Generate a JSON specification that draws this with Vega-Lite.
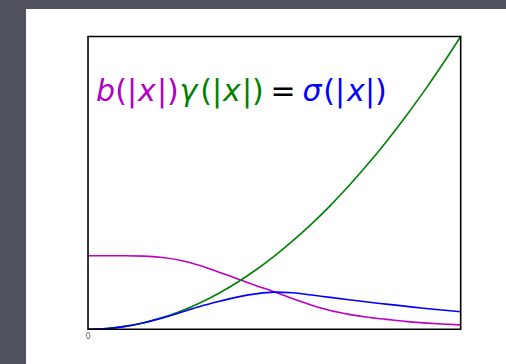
{
  "$schema": "https://vega.github.io/schema/vega-lite/v6.json",
  "width": 480,
  "height": 355,
  "autosize": "none",
  "padding": {"left": 26, "top": 9, "right": 0, "bottom": 0},
  "background": "#50535d",
  "config": {"view": {"fill": "white", "stroke": null}},
  "datasets": {
    "curves": [
      {"x": 0.00, "b": 0.251, "gamma": 0.0000, "sigma": 0.0000},
      {"x": 0.05, "b": 0.251, "gamma": 0.0025, "sigma": 0.0025},
      {"x": 0.10, "b": 0.251, "gamma": 0.0100, "sigma": 0.0100},
      {"x": 0.15, "b": 0.250, "gamma": 0.0225, "sigma": 0.0225},
      {"x": 0.20, "b": 0.245, "gamma": 0.0400, "sigma": 0.0390},
      {"x": 0.25, "b": 0.235, "gamma": 0.0625, "sigma": 0.0580},
      {"x": 0.30, "b": 0.218, "gamma": 0.0900, "sigma": 0.0780},
      {"x": 0.35, "b": 0.196, "gamma": 0.1225, "sigma": 0.0950},
      {"x": 0.40, "b": 0.173, "gamma": 0.1600, "sigma": 0.1100},
      {"x": 0.45, "b": 0.150, "gamma": 0.2025, "sigma": 0.1210},
      {"x": 0.50, "b": 0.128, "gamma": 0.2500, "sigma": 0.1270},
      {"x": 0.55, "b": 0.104, "gamma": 0.3025, "sigma": 0.1250},
      {"x": 0.60, "b": 0.082, "gamma": 0.3600, "sigma": 0.1170},
      {"x": 0.65, "b": 0.064, "gamma": 0.4225, "sigma": 0.1090},
      {"x": 0.70, "b": 0.051, "gamma": 0.4900, "sigma": 0.1010},
      {"x": 0.75, "b": 0.041, "gamma": 0.5625, "sigma": 0.0930},
      {"x": 0.80, "b": 0.034, "gamma": 0.6400, "sigma": 0.0860},
      {"x": 0.85, "b": 0.027, "gamma": 0.7225, "sigma": 0.0790},
      {"x": 0.90, "b": 0.022, "gamma": 0.8100, "sigma": 0.0720},
      {"x": 0.95, "b": 0.018, "gamma": 0.9025, "sigma": 0.0660},
      {"x": 1.00, "b": 0.015, "gamma": 1.0000, "sigma": 0.0600}
    ],
    "one": [{}]
  },
  "resolve": {"scale": {"x": "shared", "y": "shared"}},
  "layer": [
    {
      "data": {"name": "curves"},
      "transform": [{"fold": ["b", "gamma", "sigma"], "as": ["fn", "v"]}],
      "mark": {"type": "line", "interpolate": "monotone", "strokeWidth": 1.6, "clip": false},
      "encoding": {
        "x": {"field": "x", "type": "quantitative", "scale": {"domain": [-0.1664, 1.1216], "nice": false, "zero": false}, "axis": null},
        "y": {"field": "v", "type": "quantitative", "scale": {"domain": [-0.1185, 1.0939], "nice": false, "zero": false}, "axis": null},
        "color": {"field": "fn", "type": "nominal", "scale": {"domain": ["b", "gamma", "sigma"], "range": ["#bf00bf", "#008000", "#0000ff"]}, "legend": null}
      }
    },
    {
      "data": {"name": "one"},
      "mark": {"type": "rect", "fill": null, "stroke": "black", "strokeWidth": 1.6},
      "encoding": {
        "x": {"datum": 0, "type": "quantitative"},
        "x2": {"datum": 1},
        "y": {"datum": 0, "type": "quantitative"},
        "y2": {"datum": 1}
      }
    },
    {
      "data": {"name": "one"},
      "mark": {"type": "text", "text": "0", "font": "DejaVu Sans", "fontSize": 8, "color": "#666666", "align": "center", "baseline": "top", "dy": 4},
      "encoding": {"x": {"datum": 0, "type": "quantitative"}, "y": {"datum": 0, "type": "quantitative"}}
    },
    {
      "data": {"name": "one"},
      "mark": {"type": "text", "text": "b", "font": "DejaVu Sans", "fontSize": 30, "fontStyle": "italic", "color": "#b000c4", "align": "left", "baseline": "alphabetic"},
      "encoding": {"x": {"datum": 0.0215, "type": "quantitative"}, "y": {"datum": 0.778, "type": "quantitative"}}
    },
    {
      "data": {"name": "one"},
      "mark": {"type": "text", "text": "(|", "font": "DejaVu Sans", "fontSize": 30, "color": "#b000c4", "align": "left", "baseline": "alphabetic"},
      "encoding": {"x": {"datum": 0.0730, "type": "quantitative"}, "y": {"datum": 0.778, "type": "quantitative"}}
    },
    {
      "data": {"name": "one"},
      "mark": {"type": "text", "text": "x", "font": "DejaVu Sans", "fontSize": 30, "fontStyle": "italic", "color": "#b000c4", "align": "left", "baseline": "alphabetic"},
      "encoding": {"x": {"datum": 0.1342, "type": "quantitative"}, "y": {"datum": 0.778, "type": "quantitative"}}
    },
    {
      "data": {"name": "one"},
      "mark": {"type": "text", "text": "|)", "font": "DejaVu Sans", "fontSize": 30, "color": "#b000c4", "align": "left", "baseline": "alphabetic"},
      "encoding": {"x": {"datum": 0.1851, "type": "quantitative"}, "y": {"datum": 0.778, "type": "quantitative"}}
    },
    {
      "data": {"name": "one"},
      "mark": {"type": "text", "text": "γ", "font": "DejaVu Sans", "fontSize": 30, "fontStyle": "italic", "color": "#008000", "align": "left", "baseline": "alphabetic"},
      "encoding": {"x": {"datum": 0.2455, "type": "quantitative"}, "y": {"datum": 0.778, "type": "quantitative"}}
    },
    {
      "data": {"name": "one"},
      "mark": {"type": "text", "text": "(|", "font": "DejaVu Sans", "fontSize": 30, "color": "#008000", "align": "left", "baseline": "alphabetic"},
      "encoding": {"x": {"datum": 0.3010, "type": "quantitative"}, "y": {"datum": 0.778, "type": "quantitative"}}
    },
    {
      "data": {"name": "one"},
      "mark": {"type": "text", "text": "x", "font": "DejaVu Sans", "fontSize": 30, "fontStyle": "italic", "color": "#008000", "align": "left", "baseline": "alphabetic"},
      "encoding": {"x": {"datum": 0.3622, "type": "quantitative"}, "y": {"datum": 0.778, "type": "quantitative"}}
    },
    {
      "data": {"name": "one"},
      "mark": {"type": "text", "text": "|)", "font": "DejaVu Sans", "fontSize": 30, "color": "#008000", "align": "left", "baseline": "alphabetic"},
      "encoding": {"x": {"datum": 0.4132, "type": "quantitative"}, "y": {"datum": 0.778, "type": "quantitative"}}
    },
    {
      "data": {"name": "one"},
      "mark": {"type": "text", "text": "=", "font": "DejaVu Sans", "fontSize": 30, "color": "black", "align": "left", "baseline": "alphabetic"},
      "encoding": {"x": {"datum": 0.4894, "type": "quantitative"}, "y": {"datum": 0.778, "type": "quantitative"}}
    },
    {
      "data": {"name": "one"},
      "mark": {"type": "text", "text": "σ", "font": "DejaVu Sans", "fontSize": 30, "fontStyle": "italic", "color": "#0000ff", "align": "left", "baseline": "alphabetic"},
      "encoding": {"x": {"datum": 0.5755, "type": "quantitative"}, "y": {"datum": 0.778, "type": "quantitative"}}
    },
    {
      "data": {"name": "one"},
      "mark": {"type": "text", "text": "(|", "font": "DejaVu Sans", "fontSize": 30, "color": "#0000ff", "align": "left", "baseline": "alphabetic"},
      "encoding": {"x": {"datum": 0.6311, "type": "quantitative"}, "y": {"datum": 0.778, "type": "quantitative"}}
    },
    {
      "data": {"name": "one"},
      "mark": {"type": "text", "text": "x", "font": "DejaVu Sans", "fontSize": 30, "fontStyle": "italic", "color": "#0000ff", "align": "left", "baseline": "alphabetic"},
      "encoding": {"x": {"datum": 0.6949, "type": "quantitative"}, "y": {"datum": 0.778, "type": "quantitative"}}
    },
    {
      "data": {"name": "one"},
      "mark": {"type": "text", "text": "|)", "font": "DejaVu Sans", "fontSize": 30, "color": "#0000ff", "align": "left", "baseline": "alphabetic"},
      "encoding": {"x": {"datum": 0.7432, "type": "quantitative"}, "y": {"datum": 0.778, "type": "quantitative"}}
    }
  ]
}
